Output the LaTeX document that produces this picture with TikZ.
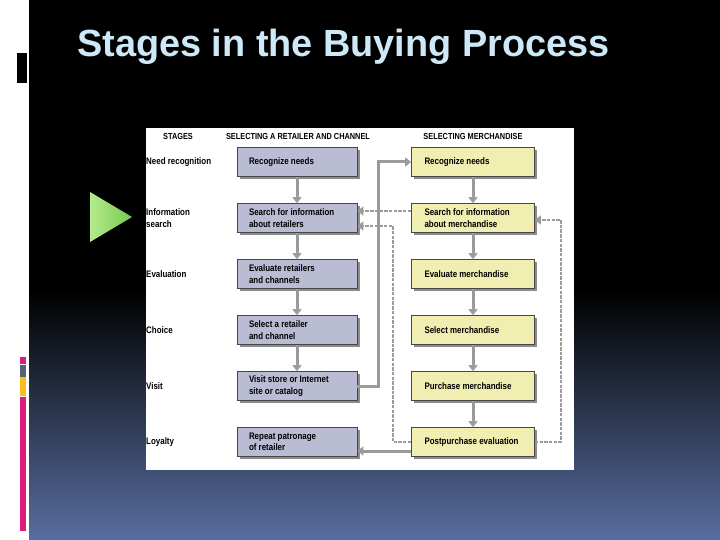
\documentclass[tikz,border=0pt]{standalone}
\usepackage{fontspec}
\setmainfont{Liberation Sans}
\newfontfamily\condfont[FakeStretch=0.84]{Liberation Sans}
\usetikzlibrary{arrows.meta,shadows}

\definecolor{titleblue}{RGB}{205,232,246}
\definecolor{panelblue}{RGB}{88,110,160}
\definecolor{retailfill}{RGB}{186,188,212}
\definecolor{merchfill}{RGB}{240,238,176}
\definecolor{boxline}{RGB}{70,70,70}
\definecolor{linkgray}{RGB}{155,155,155}
\definecolor{barpink}{RGB}{222,28,128}
\definecolor{bargray}{RGB}{90,98,112}
\definecolor{baryellow}{RGB}{250,188,30}
\definecolor{arrowgreen}{RGB}{120,200,80}
\definecolor{arrowlight}{RGB}{180,235,140}

\newcommand\boxfont{\condfont\bfseries\fontsize{9.5}{11.5}\selectfont\hyphenpenalty=10000\relax}

\begin{document}
\begin{tikzpicture}[x=1bp, y=-1bp]
    % Define styles
    \tikzset{
        retailer/.style={
            draw=boxline,
            fill=retailfill,
            line width=0.7bp,
            minimum height=29bp,
            text width=96bp,
            inner xsep=12bp,
            inner ysep=0bp,
            align=flush left,
            font=\boxfont,
            drop shadow={shadow xshift=2.5bp, shadow yshift=-2.5bp, fill=black!45, opacity=1}
        },
        merch/.style={
            retailer,
            fill=merchfill,
            text width=97bp,
            inner xsep=13bp
        },
        stagelabel/.style={
            anchor=west,
            inner sep=0pt,
            align=left,
            font=\condfont\bfseries\fontsize{9.5}{11.5}\selectfont
        },
        colhead/.style={
            inner sep=0pt,
            font=\condfont\bfseries\fontsize{8.8}{10}\selectfont
        },
        link/.style={
            draw=linkgray,
            line width=3bp,
            -{Triangle[length=6bp, width=9bp]}
        },
        dlink/.style={
            link,
            line width=2.2bp,
            dash pattern=on 3.5bp off 1.2bp
        }
    }

    \useasboundingbox (0,0) rectangle (720,540);

    % Slide background
    \fill[white] (0,0) rectangle (720,540);
    \fill[black] (29,0) rectangle (720,290);
    \shade[top color=black, bottom color=panelblue] (29,290) rectangle (720,540);
    \fill[black] (17,53) rectangle (27,83);
    \fill[barpink] (20,357) rectangle (26,364);
    \fill[bargray] (20,365) rectangle (26,377);
    \fill[baryellow] (20,377) rectangle (26,396);
    \fill[barpink] (20,397) rectangle (26,531);

    % Title
    \node[anchor=base west, inner sep=0pt, text=titleblue,
          font=\bfseries\fontsize{38}{40}\selectfont] (title) at (77,57) {Stages in the Buying Process};

    % Bullet
    \shade[left color=arrowlight, right color=arrowgreen] (90,192) -- (132,217) -- (90,242) -- cycle;

    % Figure
    \fill[white] (146,128) rectangle (574,470);

    % Column heads
    \node[colhead] (hstage) at (178,136) {STAGES};
    \node[colhead] (hretail) at (298,136) {SELECTING A RETAILER AND CHANNEL};
    \node[colhead] (hmerch) at (473,136) {SELECTING MERCHANDISE};

    % Stages
    \node[stagelabel] (s1) at (146,162) {Need recognition};
    \node[stagelabel] (s2) at (146,218) {Information\\search};
    \node[stagelabel] (s3) at (146,274) {Evaluation};
    \node[stagelabel] (s4) at (146,330) {Choice};
    \node[stagelabel] (s5) at (146,386) {Visit};
    \node[stagelabel] (s6) at (146,442) {Loyalty};

    % Retailer and channel
    \node[retailer] (lb1) at (297,162) {Recognize needs};
    \node[retailer] (lb2) at (297,218) {Search for information\\about retailers};
    \node[retailer] (lb3) at (297,274) {Evaluate retailers\\and channels};
    \node[retailer] (lb4) at (297,330) {Select a retailer\\and channel};
    \node[retailer] (lb5) at (297,386) {Visit store or Internet\\site or catalog};
    \node[retailer] (lb6) at (297,442) {Repeat patronage\\of retailer};

    % Merchandise
    \node[merch] (rb1) at (473,162) {Recognize needs};
    \node[merch] (rb2) at (473,218) {Search for information\\about merchandise};
    \node[merch] (rb3) at (473,274) {Evaluate merchandise};
    \node[merch] (rb4) at (473,330) {Select merchandise};
    \node[merch] (rb5) at (473,386) {Purchase merchandise};
    \node[merch] (rb6) at (473,442) {Postpurchase evaluation};

    % Steps down each column
    \foreach \a/\b in {lb1/lb2, lb2/lb3, lb3/lb4, lb4/lb5,
                       rb1/rb2, rb2/rb3, rb3/rb4, rb4/rb5, rb5/rb6}
        \draw[link] (\a.south) -- (\b.north);

    % Links between columns
    \draw[dlink] ([yshift=7bp]rb2.west) -- ([yshift=7bp]lb2.east);
    \draw[dlink] (rb6.west) -- ++(-18,0) |- ([yshift=-8bp]lb2.east);
    \draw[dlink] (rb6.east) -- ++(26,0) |- ([yshift=-2bp]rb2.east);
    \draw[link] (lb5.east) -- ++(21,0) |- (rb1.west);
    \draw[link] ([yshift=-9bp]rb6.west) -- ([yshift=-9bp]lb6.east);

\end{tikzpicture}
\end{document}
